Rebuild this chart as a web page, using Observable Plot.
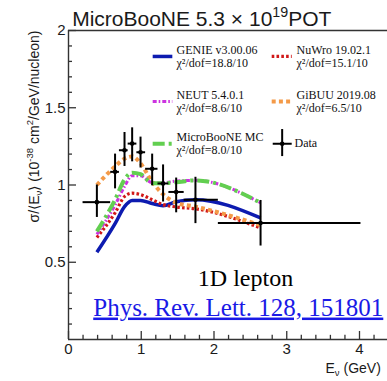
<!DOCTYPE html>
<html>
<head>
<meta charset="utf-8">
<script src="https://cdn.jsdelivr.net/npm/d3@7"></script>
<script src="https://cdn.jsdelivr.net/npm/@observablehq/plot@0.6"></script>
<style>
  html, body { margin: 0; padding: 0; background: #fff; overflow: hidden; }
  #chart { width: 387px; height: 381px; overflow: hidden; }
  #chart svg { display: block; max-width: none !important; width: 400px !important; height: 381px !important; }
</style>
</head>
<body>
<div id="chart"></div>
<script>
// ---- data ----
const energies  = [0.39, 0.64, 0.77, 0.875, 0.99, 1.15, 1.30, 1.48, 1.745, 2.64];
const binLow    = [0.20, 0.58, 0.70, 0.82, 0.94, 1.06, 1.23, 1.38, 1.59, 2.06];
const binHigh   = [0.58, 0.70, 0.82, 0.94, 1.06, 1.23, 1.38, 1.59, 2.06, 4.02];
const dataXsec  = [0.889, 1.085, 1.225, 1.268, 1.212, 1.105, 1.01, 0.955, 0.905, 0.754];
const dataLow   = [0.79, 0.975, 1.12, 1.15, 1.11, 0.995, 0.89, 0.82, 0.75, 0.605];
const dataHigh  = [1.00, 1.20, 1.34, 1.37, 1.31, 1.20, 1.13, 1.045, 1.05, 0.90];

const genie     = [0.565, 0.75, 0.86, 0.90, 0.90, 0.88, 0.866, 0.892, 0.905, 0.787];
const nuwro     = [0.66, 0.82, 0.925, 0.947, 0.938, 0.905, 0.873, 0.858, 0.846, 0.722];
const neut      = [0.68, 0.87, 0.99, 1.06, 1.06, 1.015, 1.015, 1.025, 1.03, 0.885];
const gibuu     = [1.00, 1.12, 1.17, 1.185, 1.14, 1.02, 0.94, 0.885, 0.86, 0.74];
const uboonemc  = [0.70, 0.905, 1.035, 1.08, 1.07, 1.012, 1.012, 1.018, 1.03, 0.885];

const xTickLabels = [0, 1, 2, 3, 4];
const yTickLabels = [0.5, 1, 1.5, 2];
const xMinorTicks = [0.2, 0.4, 0.6, 0.8, 1.2, 1.4, 1.6, 1.8, 2.2, 2.4, 2.6, 2.8, 3.2, 3.4, 3.6, 3.8, 4.2, 4.4];
const yMinorTicks = [0.1, 0.2, 0.3, 0.4, 0.6, 0.7, 0.8, 0.9, 1.1, 1.2, 1.3, 1.4, 1.6, 1.7, 1.8, 1.9];

const seriesNames = ["GENIE v3.00.06", "NuWro 19.02.1", "NEUT 5.4.0.1", "GiBUU 2019.08", "MicroBooNE MC"];
const seriesChi2  = ["18.8/10", "15.1/10", "8.6/10", "6.5/10", "8.0/10"];
const seriesValues = [genie, nuwro, neut, gibuu, uboonemc];

// ---- styles / layout ----
const seriesStyle = [
  {stroke: "#0d1bb0", width: 3.5, dash: null},
  {stroke: "#d01818", width: 3.2, dash: "2.6,2.2"},
  {stroke: "#cc33e0", width: 3.0, dash: "4,2,1.6,2"},
  {stroke: "#f49a48", width: 4.0, dash: "4,3.2"},
  {stroke: "#62cf50", width: 4.0, dash: "12,4,3,4"}
];
const legendCols = [{x1: 1.164, x2: 1.434, tx: 1.485}, {x1: 2.80, x2: 3.075, tx: 3.134}];
const legendRows = [1.832, 1.540, 1.267];
const legendSlot = [[0, 0], [1, 0], [0, 1], [1, 1], [0, 2]];

const points = energies.map((e, i) => ({x: e, xlo: binLow[i], xhi: binHigh[i], y: dataXsec[i], ylo: dataLow[i], yhi: dataHigh[i]}));

const marks = [];

// frame (the right side lies beyond the visible window, as in the reference crop)
marks.push(Plot.ruleX([0], {stroke: "#333", strokeWidth: 1.4}));
marks.push(Plot.ruleY([0], {stroke: "#333", strokeWidth: 1.4}));
marks.push(Plot.ruleY([2], {stroke: "#333", strokeWidth: 1.4}));
// inward ticks
marks.push(Plot.ruleX(xTickLabels, {y1: 0, y2: 0.052, stroke: "#333", strokeWidth: 1.3}));
marks.push(Plot.ruleX(xMinorTicks, {y1: 0, y2: 0.027, stroke: "#333", strokeWidth: 1.3}));
marks.push(Plot.ruleY(yTickLabels, {x1: 0, x2: 0.11, stroke: "#333", strokeWidth: 1.3}));
marks.push(Plot.ruleY(yMinorTicks, {x1: 0, x2: 0.055, stroke: "#333", strokeWidth: 1.3}));

marks.push(Plot.axisX({ticks: xTickLabels, tickSize: 0, tickPadding: 4, fontSize: 15, label: null, tickFormat: d => String(d)}));
marks.push(Plot.axisY({ticks: yTickLabels, tickSize: 0, tickPadding: 3, fontSize: 15, label: null, tickFormat: d => String(d)}));

// curves + legend samples
seriesValues.forEach((vals, i) => {
  const st = seriesStyle[i];
  const curve = energies.map((e, j) => ({x: e, y: vals[j]}));
  marks.push(Plot.line(curve, {x: "x", y: "y", stroke: st.stroke, strokeWidth: st.width, strokeDasharray: st.dash, strokeLinecap: "butt", strokeLinejoin: "round", curve: "monotone-x"}));
  const [c, r] = legendSlot[i];
  const col = legendCols[c];
  marks.push(Plot.ruleY([legendRows[r]], {x1: col.x1, x2: col.x2, stroke: st.stroke, strokeWidth: st.width, strokeDasharray: st.dash, strokeLinecap: "butt"}));
  marks.push(Plot.text([seriesNames[i] + "\nχ²/dof=" + seriesChi2[i]], {
    x: col.tx, y: legendRows[r], text: d => d, textAnchor: "start", lineAnchor: "middle",
    lineHeight: 1.08, fontSize: 12, fontFamily: "Liberation Serif", fill: "#111", dy: -0.5
  }));
});

// data points
marks.push(Plot.ruleX(points, {x: "x", y1: "ylo", y2: "yhi", stroke: "#000", strokeWidth: 2}));
marks.push(Plot.ruleY(points, {y: "y", x1: "xlo", x2: "xhi", stroke: "#000", strokeWidth: 2}));
marks.push(Plot.dot(points, {x: "x", y: "y", r: 2.3, fill: "#000"}));

// data legend entry
const dataLegend = [{x: 2.937, y: 1.267, xlo: 2.814, xhi: 3.075, ylo: 1.184, yhi: 1.359}];
marks.push(Plot.ruleX(dataLegend, {x: "x", y1: "ylo", y2: "yhi", stroke: "#000", strokeWidth: 2}));
marks.push(Plot.ruleY(dataLegend, {y: "y", x1: "xlo", x2: "xhi", stroke: "#000", strokeWidth: 2}));
marks.push(Plot.dot(dataLegend, {x: "x", y: "y", r: 2.3, fill: "#000"}));
marks.push(Plot.text(["Data"], {x: 3.107, y: 1.245, text: d => d, textAnchor: "start", lineAnchor: "bottom", fontSize: 12, fontFamily: "Liberation Serif", fill: "#111"}));

// annotations
marks.push(Plot.text(["@TITLE@"], {x: 0.05, y: 2.032, text: d => d, textAnchor: "start", lineAnchor: "bottom", fontSize: 21, fontFamily: "Liberation Sans", fill: "#1a1a1a"}));
marks.push(Plot.text(["@YLABEL@"], {x: -0.412, y: 2.0, text: d => d, textAnchor: "end", lineAnchor: "bottom", rotate: -90, fontSize: 14, fontFamily: "Liberation Sans", fill: "#1a1a1a"}));
marks.push(Plot.text(["@XLABEL@"], {x: 3.533, y: -0.2136, text: d => d, textAnchor: "start", lineAnchor: "bottom", fontSize: 14, fontFamily: "Liberation Sans", fill: "#1a1a1a"}));
marks.push(Plot.text(["1D lepton"], {x: 2.433, y: 0.3495, text: d => d, textAnchor: "middle", lineAnchor: "bottom", fontSize: 24, fontFamily: "Liberation Serif", fill: "#000"}));
marks.push(Plot.text(["Phys. Rev. Lett. 128, 151801"], {x: 0.34, y: 0.155, text: d => d, textAnchor: "start", lineAnchor: "bottom", fontSize: 25, fontFamily: "Liberation Serif", fill: "#1a1ae6"}));

const svg = Plot.plot({
  width: 400, height: 381,
  marginLeft: 68, marginRight: 0, marginTop: 30, marginBottom: 42,
  x: {domain: [0, 4.5636]},
  y: {domain: [0, 2]},
  style: {fontFamily: "Liberation Sans", background: "#fff", color: "#1a1a1a", overflow: "hidden", maxWidth: "none"},
  marks
});

// rich text (super/subscripts)
const NS = "http://www.w3.org/2000/svg";
function rich(el, parts, fs) {
  el.textContent = "";
  let shift = 0;
  for (const [s, kind] of parts) {
    const t = document.createElementNS(NS, "tspan");
    const target = kind === "sup" ? -0.4 * fs : kind === "sub" ? 0.25 * fs : 0;
    if (target - shift !== 0) t.setAttribute("dy", target - shift);
    shift = target;
    if (kind) t.setAttribute("font-size", 0.68 * fs);
    t.textContent = s;
    el.appendChild(t);
  }
}
svg.querySelectorAll("text").forEach(el => {
  const s = el.textContent;
  if (s === "@TITLE@") rich(el, [["MicroBooNE 5.3 × 10"], ["19", "sup"], ["POT"]], 21);
  else if (s === "@YLABEL@") rich(el, [["σ/⟨E"], ["ν", "sub"], ["⟩ (10"], ["-38", "sup"], [" cm"], ["2", "sup"], ["/GeV/nucleon)"]], 14);
  else if (s === "@XLABEL@") rich(el, [["E"], ["ν", "sub"], [" (GeV)"]], 14);
  else if (s.startsWith("Phys. Rev.")) {
    el.style.textDecoration = "underline";
    el.style.textDecorationThickness = "2px";
    el.style.textUnderlineOffset = "4px";
  }
});

document.getElementById("chart").appendChild(svg);
</script>
</body>
</html>
